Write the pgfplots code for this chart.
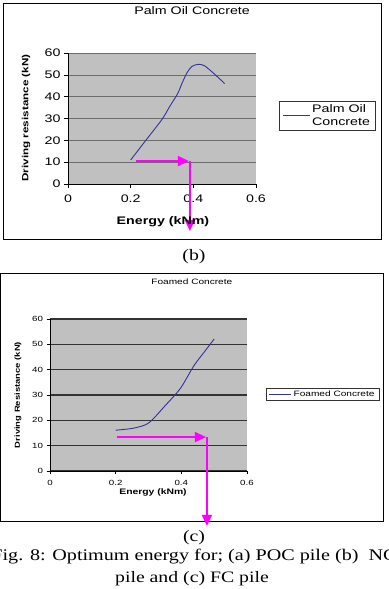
\documentclass[border=0pt]{standalone}
\usepackage{pgfplots}
\pgfplotsset{compat=1.18}
\usetikzlibrary{arrows.meta}
\usepackage{fontspec}
\setmainfont{Liberation Serif}
\newfontfamily\capfont[FakeStretch=1.24]{Liberation Serif}
\newfontfamily\chartsans[FakeStretch=1.3]{Liberation Sans}
\definecolor{plotbg}{HTML}{C0C0C0}
\definecolor{navy}{HTML}{333399}
\definecolor{mag}{HTML}{FF00FF}
\pgfplotstableread{
x y
0.20 11.0
0.25 20.3
0.30 29.6
0.325 35.6
0.35 41.4
0.365 46.5
0.38 51.0
0.395 53.8
0.415 54.8
0.435 54.2
0.464 50.8
0.50 46.0
}\palmdata
\pgfplotstableread{
x y
0.20 16.1
0.25 16.8
0.288 18.1
0.31 20.0
0.348 25.4
0.397 32.6
0.438 41.5
0.47 47.0
0.50 52.1
}\foamdata
\begin{document}
\begin{tikzpicture}
\useasboundingbox (0bp,0bp) rectangle (389bp,589bp);
% boxes
\draw[line width=0.9bp] (3bp,350bp) rectangle (381bp,586bp);
\draw[line width=0.9bp] (0.5bp,68bp) rectangle (383bp,316bp);
% captions
\node[font=\capfont\fontsize{16}{18}\selectfont] at (194bp,332bp) {(b)};
\node[font=\capfont\fontsize{16}{18}\selectfont] at (194bp,51bp) {(c)};
\node[font=\capfont\fontsize{16.3}{18}\selectfont] at (194bp,32bp) {Fig. 8: Optimum energy for; (a) POC pile (b)\ \ NC};
\node[font=\capfont\fontsize{16}{18}\selectfont] at (192bp,10bp) {pile and (c) FC pile};
% top axis
\begin{axis}[
  at={(68bp,405bp)}, anchor=south west,
  scale only axis, width=188bp, height=131bp,
  xmin=0, xmax=0.6, ymin=0, ymax=60,
  xtick={0,0.2,0.4,0.6}, ytick={0,10,20,30,40,50,60},
  axis x line*=bottom, axis y line*=left,
  axis line style={black, line width=0.8bp, -},
  tick align=outside, major tick length=4bp,
  tick style={black, line width=0.6bp},
  axis background/.style={fill=plotbg},
  ymajorgrids, major grid style={color=gray!85!black, line width=0.6bp},
  /pgf/number format/assume math mode=true,
  ticklabel style={font=\chartsans\fontsize{11}{13}\selectfont},
  xticklabel style={yshift=-3bp},
  title={Palm Oil Concrete},
  title style={font=\chartsans\fontsize{11}{13}\selectfont, at={(axis description cs:0.66,1.275)}, anchor=center},
  xlabel={\bfseries Energy (kNm)},
  xlabel style={font=\chartsans\fontsize{11}{13}\selectfont, at={(axis description cs:0.505,-0.29)}, anchor=center},
  ylabel={\bfseries Driving resistance (kN)},
  ylabel style={font=\chartsans\fontsize{9}{11}\selectfont, at={(axis description cs:-0.223,0.504)}, anchor=center, rotate=0},
  legend style={at={(axis description cs:1.122,0.634)}, anchor=north west, draw=black!80, line width=0.7bp, fill=white,
    font=\chartsans\fontsize{11}{13}\selectfont, cells={anchor=west, align=left}, inner xsep=3bp, inner ysep=1.2bp},
  legend image code/.code={\draw[#1] (0bp,0bp) -- (27bp,0bp);},
  clip=false,
]
\addplot[navy, line width=0.9bp, smooth] table[x=x,y=y] {\palmdata};
\addlegendentry{Palm Oil\\Concrete}
\draw[mag, line width=1.5bp, -{Triangle[length=11bp,width=10bp]}] (axis cs:0.217,10.5) -- (axis cs:0.386,10.5);
\draw[mag, line width=1.5bp, -{Triangle[length=11bp,width=10bp]}] (axis cs:0.389,10.5) -- (axis cs:0.389,-21.5);
\end{axis}
% bottom axis
\begin{axis}[
  at={(50bp,118bp)}, anchor=south west,
  scale only axis, width=197bp, height=152bp,
  xmin=0, xmax=0.6, ymin=0, ymax=60,
  xtick={0,0.2,0.4,0.6}, ytick={0,10,20,30,40,50,60},
  axis x line*=bottom, axis y line*=left,
  axis line style={black, line width=0.8bp, -},
  tick align=outside, major tick length=3.5bp,
  tick style={black, line width=0.6bp},
  axis background/.style={fill=plotbg},
  ymajorgrids, major grid style={color=black!80, line width=1.1bp},
  /pgf/number format/assume math mode=true,
  ticklabel style={font=\chartsans\fontsize{7.5}{9}\selectfont},
  xticklabel style={yshift=-2bp},
  title={Foamed Concrete},
  title style={font=\chartsans\fontsize{7.8}{9}\selectfont, at={(axis description cs:0.72,1.204)}, anchor=center},
  xlabel={\bfseries Energy (kNm)},
  xlabel style={font=\chartsans\fontsize{8}{10}\selectfont, at={(axis description cs:0.523,-0.138)}, anchor=center},
  ylabel={\bfseries Driving Resistance (kN)},
  ylabel style={font=\chartsans\fontsize{7.3}{9}\selectfont, at={(axis description cs:-0.162,0.5)}, anchor=center, rotate=0},
  legend style={at={(axis description cs:1.096,0.546)}, anchor=north west, draw=black!80, line width=0.7bp, fill=white,
    font=\chartsans\fontsize{7.8}{9}\selectfont, cells={anchor=west, align=left}, inner xsep=2.5bp, inner ysep=0.5bp},
  legend image code/.code={\draw[#1] (0bp,0bp) -- (22bp,0bp);},
  clip=false,
]
\addplot[navy, line width=0.9bp, smooth] table[x=x,y=y] {\foamdata};
\addlegendentry{Foamed Concrete}
\draw[mag, line width=1.5bp, -{Triangle[length=11bp,width=10bp]}] (axis cs:0.204,13.4) -- (axis cs:0.475,13.4);
\draw[mag, line width=1.5bp, -{Triangle[length=11bp,width=10bp]}] (axis cs:0.478,13.4) -- (axis cs:0.478,-21.7);
\end{axis}
\end{tikzpicture}
\end{document}
